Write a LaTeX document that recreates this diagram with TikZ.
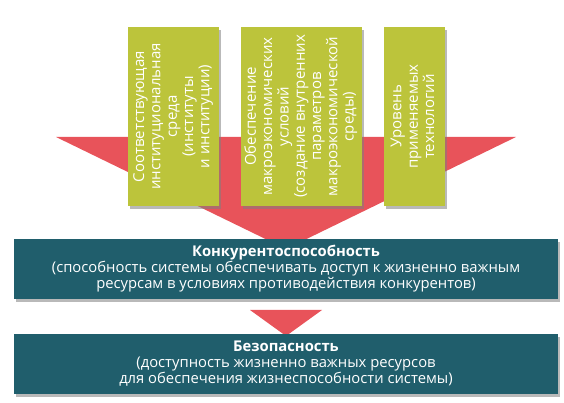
\documentclass[tikz,border=0pt]{standalone}
\usepackage{fontspec}
\setmainfont{Open Sans}
\usetikzlibrary{positioning,shadows}
\definecolor{olivebox}{RGB}{188,196,59}
\definecolor{redarrow}{RGB}{232,83,90}
\definecolor{tealbox}{RGB}{32,94,108}
\newcommand\uptext[1]{\rotatebox{90}{\begin{tabular}{@{}c@{}}#1\end{tabular}}}

\begin{document}
\begin{tikzpicture}[x=1pt,y=1pt,
  factor/.style={fill=olivebox,text=white,inner sep=0pt,minimum height=179pt,
    font=\fontsize{15}{16.3}\selectfont,
    drop shadow={shadow xshift=1.5pt,shadow yshift=-3.5pt,fill=black!50,opacity=.55}},
  result/.style={fill=tealbox,text=white,inner sep=0pt,minimum width=544pt,minimum height=60pt,
    align=center,font=\fontsize{14.8}{16}\selectfont,
    drop shadow={shadow xshift=1.5pt,shadow yshift=-3.5pt,fill=black!50,opacity=.55}},
  tri/.style={fill=redarrow}]
  \useasboundingbox (0,0) rectangle (564,403);

  % big arrow behind the factors
  \coordinate (tl) at (56,266);
  \coordinate (tr) at (516,266);
  \coordinate (tip) at (286,154);
  \fill[tri] (tl) -- (tr) -- (tip) -- cycle;

  \node[factor,minimum width=91pt] (inst) at (173.5,286.5)
    {\uptext{Соответствующая\\институциональная\\среда\\(институты\\и институции)}};
  \node[factor,minimum width=121pt] (macro) at (301.5,286.5)
    {\uptext{Обеспечение\\макроэкономических\\условий\\(создание внутренних\\параметров\\макроэкономической\\среды)}};
  \node[factor,minimum width=61pt] (tech) at (414.5,286.5)
    {\uptext{Уровень\\применяемых\\технологий}};

  \node[result] (comp) at (286,134)
    {\textbf{Конкурентоспособность}\\(способность системы обеспечивать доступ к жизненно важным\\ресурсам в условиях противодействия конкурентов)};

  % small arrow
  \coordinate (sl) at (250,93);
  \coordinate (sr) at (322,93);
  \coordinate (stip) at (286,67);
  \fill[tri] (sl) -- (sr) -- (stip) -- cycle;

  \node[result] (safe) at (286,39)
    {\textbf{Безопасность}\\(доступность жизненно важных ресурсов\\для обеспечения жизнеспособности системы)};
\end{tikzpicture}
\end{document}
